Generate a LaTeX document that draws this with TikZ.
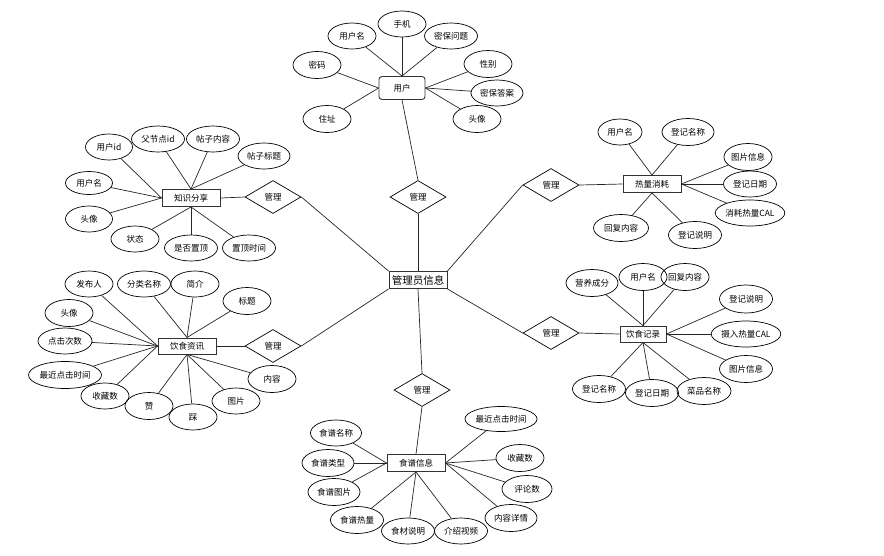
\documentclass[tikz,border=0pt]{standalone}
\usepackage{fontspec}
\newfontfamily\cjk{Noto Sans CJK SC}
\usetikzlibrary{shapes.geometric}

\tikzset{
  txt/.style={font=\cjk\fontsize{8.5}{10}\selectfont},
  attr/.style={draw,ellipse,txt,line width=0.7pt,inner sep=0pt,minimum width=48pt,minimum height=26pt},
  entity/.style={draw=black!80,rectangle,txt,line width=0.95pt,inner sep=0pt,minimum width=58pt,minimum height=17pt},
  rel/.style={draw,diamond,txt,line width=0.7pt,inner sep=0pt,minimum width=56pt,minimum height=33pt},
  link/.style={line width=0.7pt,black!85},
}

\begin{document}
\begin{tikzpicture}[x=1pt,y=-1pt]
                    \useasboundingbox (0,0) rectangle (884,555);

                    % centre
                    \node[entity,font=\cjk\fontsize{10.5}{12}\selectfont] (admin) at (418,280){管理员信息};
                    \node[rel] (mTop) at (418,197){管理};
                    \node[rel] (mLU) at (273,197){管理};
                    \node[rel] (mLD) at (273,346){管理};
                    \node[rel] (mRU) at (551,185){管理};
                    \node[rel] (mRD) at (551,333){管理};
                    \node[rel] (mBot) at (422,390){管理};
                    \draw[link] (mTop.south) -- (admin.north);
                    \draw[link] (mLU.east) -- (admin.north west);
                    \draw[link] (mLD.east) -- (admin.south west);
                    \draw[link] (mRU.west) -- (admin.north east);
                    \draw[link] (mRD.west) -- (admin.south east);
                    \draw[link] (mBot.north) -- (admin.south);

                    % user
                    \node[entity,rounded corners=3pt,line width=0.9pt,minimum width=46pt,minimum height=23pt] (user) at (402,88){用户};
                    \node[attr] (uPhone) at (402,24){手机};
                    \node[attr] (uName) at (352,36){用户名};
                    \node[attr,minimum width=53pt] (uQues) at (451,36){密保问题};
                    \node[attr,minimum height=27pt] (uPwd) at (317,65){密码};
                    \node[attr,minimum height=27pt] (uSex) at (488,64){性别};
                    \node[attr,minimum width=52pt] (uAns) at (497,93){密保答案};
                    \node[attr,minimum height=27pt] (uAddr) at (327,119){住址};
                    \node[attr,minimum height=27pt] (uHead) at (477,119){头像};
                    \draw[link] (user.south) -- (mTop.north);
                    \draw[link] (uPhone) -- (user.north);
                    \draw[link] (uName) -- (user.north);
                    \draw[link] (uQues) -- (user.north);
                    \draw[link] (uPwd) -- (user.west);
                    \draw[link] (uAddr) -- (user.west);
                    \draw[link] (uSex) -- (user.east);
                    \draw[link] (uAns) -- (user.east);
                    \draw[link] (uHead) -- (user.east);

                    % knowledge share
                    \node[entity] (share) at (191,198){知识分享};
                    \node[attr,minimum width=47pt] (sUid) at (109,147){用户id};
                    \node[attr,minimum width=53pt] (sPid) at (158,139){父节点id};
                    \node[attr,minimum width=53pt] (sBody) at (213,139){帖子内容};
                    \node[attr,minimum width=52pt] (sTitle) at (264,156){帖子标题};
                    \node[attr,minimum width=47pt,minimum height=23pt] (sName) at (89,183){用户名};
                    \node[attr,minimum width=47pt] (sHead) at (89,219){头像};
                    \node[attr] (sState) at (135,239){状态};
                    \node[attr,minimum width=53pt] (sTop) at (191,248){是否置顶};
                    \node[attr,minimum width=53pt] (sTime) at (249,248){置顶时间};
                    \draw[link] (share.east) -- (mLU.west);
                    \draw[link] (sUid) -- (share.west);
                    \draw[link] (sName) -- (share.west);
                    \draw[link] (sHead) -- (share.west);
                    \draw[link] (sPid) -- (share.north);
                    \draw[link] (sBody) -- (share.north);
                    \draw[link] (sTitle) -- (share.north);
                    \draw[link] (sState) -- (share.south);
                    \draw[link] (sTop) -- (share.south);
                    \draw[link] (sTime) -- (share.south);

                    % diet news
                    \node[entity,minimum height=16pt] (news) at (187,346){饮食资讯};
                    \node[attr] (nAuthor) at (89,284){发布人};
                    \node[attr,minimum width=53pt] (nType) at (144,284){分类名称};
                    \node[attr] (nIntro) at (195,284){简介};
                    \node[attr,minimum height=27pt] (nTitle) at (247,301){标题};
                    \node[attr,minimum height=27pt] (nHead) at (69,313){头像};
                    \node[attr,minimum width=54pt] (nClick) at (65,341){点击次数};
                    \node[attr,minimum width=73pt,minimum height=27pt] (nLast) at (65,375){最近点击时间};
                    \node[attr] (nFav) at (105,396){收藏数};
                    \node[attr,minimum height=27pt] (nUp) at (149,406){赞};
                    \node[attr] (nDown) at (193,417){踩};
                    \node[attr] (nPic) at (236,401){图片};
                    \node[attr,minimum height=27pt] (nBody) at (272,379){内容};
                    \draw[link] (news.east) -- (mLD.west);
                    \draw[link] (nAuthor) -- (news.west);
                    \draw[link] (nHead) -- (news.west);
                    \draw[link] (nClick) -- (news.west);
                    \draw[link] (nLast) -- (news.west);
                    \draw[link] (nFav) -- (news.west);
                    \draw[link] (nType) -- (news.north);
                    \draw[link] (nIntro) -- (news.north);
                    \draw[link] (nTitle) -- (news.north);
                    \draw[link] (nUp) -- (news.south);
                    \draw[link] (nDown) -- (news.south);
                    \draw[link] (nPic) -- (news.south);
                    \draw[link] (nBody) -- (news.south);

                    % calorie use
                    \node[entity] (burn) at (652,184){热量消耗};
                    \node[attr,minimum width=44pt] (bName) at (620,132){用户名};
                    \node[attr,minimum width=52pt,minimum height=27pt] (bItem) at (688,132){登记名称};
                    \node[attr,minimum width=46pt,minimum height=27pt] (bPic) at (748,157){图片信息};
                    \node[attr,minimum width=53pt] (bDate) at (750,184){登记日期};
                    \node[attr,minimum width=66pt] (bCal) at (750,213){消耗热量CAL};
                    \node[attr,minimum width=55pt,minimum height=27pt] (bReply) at (621,228){回复内容};
                    \node[attr,minimum width=53pt,minimum height=27pt] (bNote) at (695,235){登记说明};
                    \draw[link] (mRU.east) -- (burn.west);
                    \draw[link] (bName) -- (burn.north);
                    \draw[link] (bItem) -- (burn.north);
                    \draw[link] (bPic) -- (burn.east);
                    \draw[link] (bDate) -- (burn.east);
                    \draw[link] (bCal) -- (burn.east);
                    \draw[link] (bReply) -- (burn.south);
                    \draw[link] (bNote) -- (burn.south);

                    % diet record
                    \node[entity,minimum width=46pt,minimum height=16pt] (rec) at (643,334){饮食记录};
                    \node[attr,minimum width=52pt,minimum height=27pt] (rNutri) at (592,283){营养成分};
                    \node[attr,minimum height=27pt] (rName) at (643,277){用户名};
                    \node[attr,minimum width=46pt,minimum height=27pt] (rReply) at (685,277){回复内容};
                    \node[attr,minimum width=53pt,minimum height=28pt] (rNote) at (746,299){登记说明};
                    \node[attr,minimum width=67pt] (rCal) at (746,334){摄入热量CAL};
                    \node[attr,minimum width=53pt,minimum height=27pt] (rPic) at (746,369){图片信息};
                    \node[attr,minimum width=53pt,minimum height=27pt] (rItem) at (599,389){登记名称};
                    \node[attr,minimum width=53pt,minimum height=27pt] (rDate) at (652,393){登记日期};
                    \node[attr,minimum width=54pt,minimum height=27pt] (rDish) at (704,391){菜品名称};
                    \draw[link] (mRD.east) -- (rec.west);
                    \draw[link] (rNutri) -- (rec.north);
                    \draw[link] (rName) -- (rec.north);
                    \draw[link] (rReply) -- (rec.north);
                    \draw[link] (rNote) -- (rec.east);
                    \draw[link] (rCal) -- (rec.east);
                    \draw[link] (rPic) -- (rec.east);
                    \draw[link] (rItem) -- (rec.south);
                    \draw[link] (rDate) -- (rec.south);
                    \draw[link] (rDish) -- (rec.south);

                    % recipe
                    \node[entity] (recipe) at (416,463){食谱信息};
                    \node[attr,minimum width=51pt] (cName) at (336,433){食谱名称};
                    \node[attr,minimum width=52pt,minimum height=27pt] (cType) at (328,463){食谱类型};
                    \node[attr,minimum width=52pt,minimum height=27pt] (cPic) at (334,492){食谱图片};
                    \node[attr,minimum width=53pt,minimum height=27pt] (cCal) at (357,520){食谱热量};
                    \node[attr,minimum width=53pt] (cFood) at (408,531){食材说明};
                    \node[attr,minimum width=53pt] (cVideo) at (461,531){介绍视频};
                    \node[attr,minimum width=52pt,minimum height=27pt] (cDetail) at (511,518){内容详情};
                    \node[attr,minimum width=50pt,minimum height=27pt] (cCmt) at (527,489){评论数};
                    \node[attr,minimum height=27pt] (cFav) at (520,458){收藏数};
                    \node[attr,minimum width=71pt,minimum height=25pt] (cLast) at (501,419){最近点击时间};
                    \draw[link] (mBot.south) -- (recipe.north);
                    \draw[link] (cName) -- (recipe.west);
                    \draw[link] (cType) -- (recipe.west);
                    \draw[link] (cPic) -- (recipe.west);
                    \draw[link] (cCal) -- (recipe.south);
                    \draw[link] (cFood) -- (recipe.south);
                    \draw[link] (cVideo) -- (recipe.south);
                    \draw[link] (cDetail) -- (recipe.east);
                    \draw[link] (cCmt) -- (recipe.east);
                    \draw[link] (cFav) -- (recipe.east);
                    \draw[link] (cLast) -- (recipe.east);
                \end{tikzpicture}
\end{document}
